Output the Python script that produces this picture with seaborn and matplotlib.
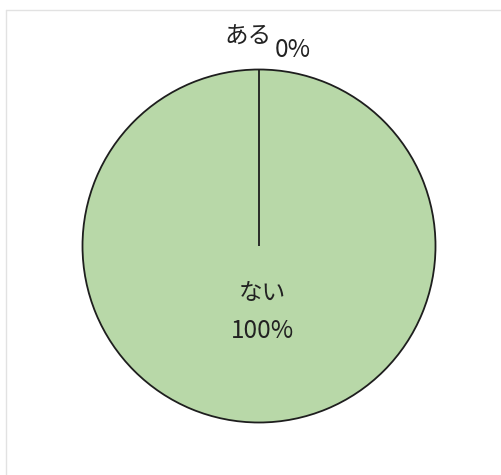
import matplotlib
matplotlib.use("Agg")
import matplotlib.pyplot as plt
import seaborn as sns

sns.set_theme(style="white")
plt.rcParams['font.family'] = ['Noto Sans CJK JP', 'DejaVu Sans']

categories = ["ない", "ある"]
values = [100, 0]
colors = ["#b8d8a8", "#b8d8a8"]

W, H = 502, 475
fig = plt.figure(figsize=(W / 100, H / 100), dpi=100)
fig.patch.set_facecolor("white")

# faint frame (top and left edges visible in the scan)
fig.add_artist(plt.Line2D([6 / W, 6 / W], [0, 1 - 10 / H], color="#e2e2e2", lw=1.0))
fig.add_artist(plt.Line2D([6 / W, 1], [1 - 10 / H, 1 - 10 / H], color="#e2e2e2", lw=1.0))

R = 176.5
cx, cy = 259, H - 246
lim = 1.25
size = 2 * lim * R
ax = fig.add_axes([(cx - size / 2) / W, (cy - size / 2) / H, size / W, size / H])

ax.pie(values, colors=colors, startangle=90, counterclock=False,
       wedgeprops=dict(edgecolor="#1e1e1e", linewidth=1.3))
ax.set_xlim(-lim, lim)
ax.set_ylim(-lim, lim)
ax.set_aspect("equal")
ax.axis("off")

total = sum(values)
pcts = [round(v / total * 100) for v in values]

# label positions (name, percent) per category
name_pos = [(0.02, -0.27), (-0.062, 1.184)]
pct_pos = [(0.02, -0.48), (0.19, 1.112)]
for cat, p, npos, ppos in zip(categories, pcts, name_pos, pct_pos):
    ax.text(npos[0], npos[1], cat, ha="center", va="center", fontsize=17, color="#222222")
    ax.text(ppos[0], ppos[1], f"{p}%", ha="center", va="center", fontsize=17.5, color="#222222")

fig.savefig("out.png", dpi=100)
